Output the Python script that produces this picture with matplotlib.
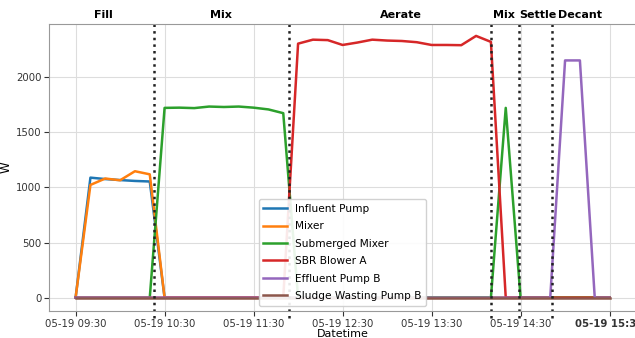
import numpy as np
import pandas as pd
import matplotlib
matplotlib.use("Agg")
import matplotlib.pyplot as plt
import matplotlib.dates as mdates
import matplotlib.transforms as mtransforms

# 10-minute samples, 09:30 to 15:30
times = pd.date_range("2021-05-19 09:30", "2021-05-19 15:30", freq="10min")
n = len(times)

influent_pump = [0, 1088, 1075, 1066, 1058, 1053, 0] + [0] * (n - 7)
mixer = [0, 1022, 1080, 1064, 1146, 1118, 0] + [0] * (n - 7)
submerged_mixer = ([0] * 5 + [0, 1720, 1722, 1718, 1732, 1728, 1732, 1722, 1706, 1672, 0]
                   + [0] * 12 + [0, 1720, 0] + [0] * 6)
sbr_blower = ([0] * 14 + [0, 2302, 2338, 2334, 2290, 2312, 2338, 2330, 2326, 2315, 2290,
                          2290, 2288, 2372, 2318, 0] + [0] * 7)
effluent_pump = [0] * 33 + [2150, 2150, 0, 0]
sludge_pump = [0] * n

series = {
    "Influent Pump": influent_pump,
    "Mixer": mixer,
    "Submerged Mixer": submerged_mixer,
    "SBR Blower A": sbr_blower,
    "Effluent Pump B": effluent_pump,
    "Sludge Wasting Pump B": sludge_pump,
}

phase_bounds = ["10:23", "11:54", "14:10", "14:29", "14:51"]
phase_names = ["Fill", "Mix", "Aerate", "Mix", "Settle", "Decant"]
phase_label_x = ["09:49", "11:08", "13:09", "14:19", "14:42", "15:10"]

fig = plt.figure(figsize=(6.35, 3.38), dpi=100)
ax = fig.add_axes([0.077, 0.080, 0.925, 0.849])

for name, vals in series.items():
    ax.plot(times, vals, lw=1.8, label=name)

for t in phase_bounds:
    ax.axvline(pd.Timestamp("2021-05-19 " + t), ymin=-0.025, ymax=1.0,
               color="#222222", ls=":", lw=1.8, clip_on=False)

trans = mtransforms.blended_transform_factory(ax.transData, ax.transAxes)
for name, t in zip(phase_names, phase_label_x):
    ax.text(mdates.date2num(pd.Timestamp("2021-05-19 " + t)), 1.015, name,
            transform=trans, ha="center", va="bottom", fontsize=8, fontweight="bold")

ax.set_xlim(pd.Timestamp("2021-05-19 09:12"), pd.Timestamp("2021-05-19 15:48"))
ax.set_ylim(-120, 2480)
ax.set_yticks([0, 500, 1000, 1500, 2000])
ticks = pd.date_range("2021-05-19 09:30", "2021-05-19 15:30", freq="1h")
ax.set_xticks(ticks)
ax.xaxis.set_major_formatter(mdates.DateFormatter("%m-%d %H:%M"))
ax.tick_params(labelsize=7.3, colors="#333333", pad=2)
ax.get_xticklabels()[-1].set_fontweight("bold")

ax.grid(True, color="#dddddd", lw=0.8)
for s in ax.spines.values():
    s.set_color("#999999")

ax.set_xlabel("Datetime", fontsize=8)
ax.xaxis.set_label_coords(0.5, -0.063)
ax.set_ylabel("W", fontsize=8.5)
ax.yaxis.set_label_coords(-0.062, 0.5)
ax.legend(loc="lower center", fontsize=7.6, framealpha=0.9, handlelength=2.2,
          labelspacing=0.7, borderpad=0.45)

fig.savefig("out.png", dpi=100)
